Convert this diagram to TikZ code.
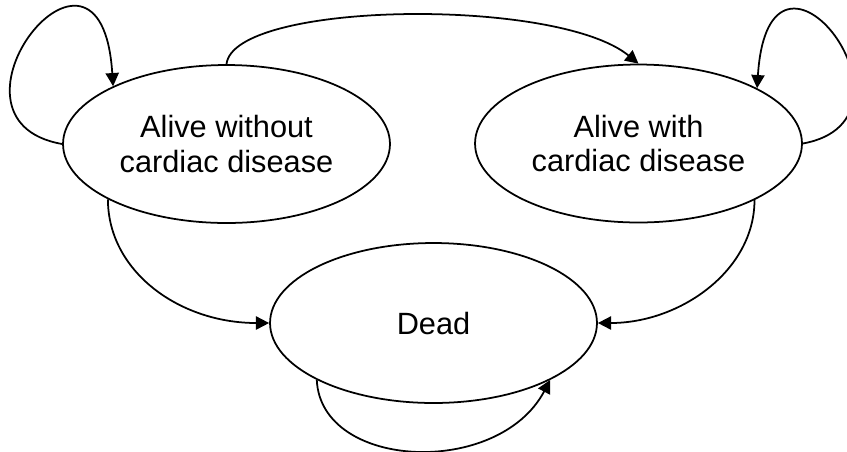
\documentclass[tikz,border=0pt]{standalone}
\usepackage{fontspec}
\setmainfont{Liberation Sans}
\usetikzlibrary{shapes.geometric,arrows.meta}
\begin{document}
\begin{tikzpicture}[x=0.02cm,y=-0.02cm,
  state/.style={draw,ellipse,line width=1pt,inner sep=0pt,align=center,
    minimum width=6.54cm,minimum height=3.16cm,
    font=\fontsize{17.5}{19.8}\selectfont},
  trans/.style={line width=1pt,-{Triangle[length=7.5pt,width=7.5pt]}}]
\useasboundingbox (0,0) rectangle (847,451);
\node[state] (L) at (226.5,144) {Alive without\\cardiac disease};
\node[state] (R) at (638.5,143.5) {Alive with\\cardiac disease};
\node[state,minimum height=3.2cm] (D) at (433.5,323) {Dead};
% self loops
\draw[trans] (L.west) .. controls +(-138,-24) and +(-12,-190) .. (L.153);
\draw[trans] (R.east) .. controls +(133,-24) and +(12,-187) .. (R.25);
\draw[trans] (D.206) .. controls +(4,90) and +(-52,98) .. (D.-26);
% transitions
\draw[trans] (L.north) .. controls +(7,-63) and +(-82,-67) .. (R.north);
\draw[trans] (L.205) .. controls +(0,72) and +(-90,0) .. (D.west);
\draw[trans] (R.-26) .. controls +(0,70) and +(83,0) .. (D.east);
\end{tikzpicture}
\end{document}
